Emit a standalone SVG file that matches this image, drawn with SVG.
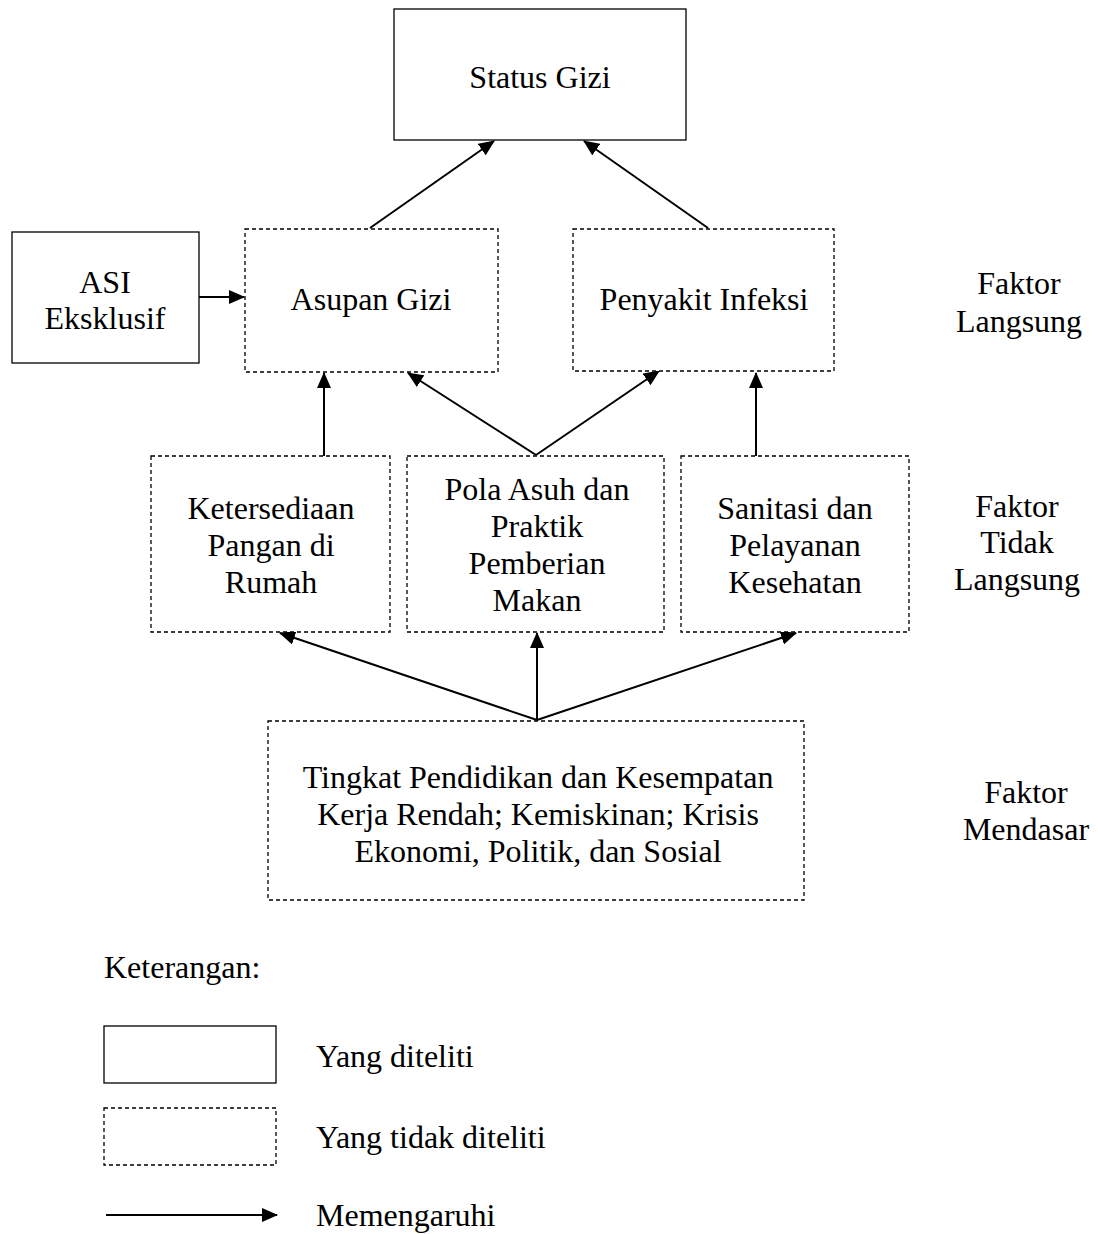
<svg xmlns="http://www.w3.org/2000/svg" width="1098" height="1234" viewBox="0 0 1098 1234">
<style>
.t{font-family:"Liberation Serif","Times New Roman",serif;font-size:32px;fill:#000;text-anchor:middle}
.l{text-anchor:start}
.s{fill:#fff;stroke:#000;stroke-width:1.3}
.d{fill:#fff;stroke:#000;stroke-width:1.3;stroke-dasharray:4 3}
.c{stroke:#000;stroke-width:2;fill:none;marker-end:url(#ah)}
</style>
<defs>
<marker id="ah" markerWidth="16" markerHeight="14" refX="15" refY="7" orient="auto" markerUnits="userSpaceOnUse">
<path d="M0,0 L16,7 L0,14 Z" fill="#000"/>
</marker>
</defs>
<rect width="1098" height="1234" fill="#fff"/>
<g id="connectors">
<line class="c" x1="370" y1="228" x2="494" y2="141"/>
<line class="c" x1="708" y1="228" x2="584" y2="141"/>
<line class="c" x1="199" y1="297" x2="244" y2="297"/>
<line class="c" x1="324" y1="456" x2="324" y2="373"/>
<line class="c" x1="536" y1="455" x2="408" y2="373"/>
<line class="c" x1="536" y1="455" x2="659" y2="371"/>
<line class="c" x1="756" y1="456" x2="756" y2="373"/>
<line class="c" x1="537" y1="720" x2="280" y2="633"/>
<line class="c" x1="537" y1="720" x2="537" y2="633"/>
<line class="c" x1="537" y1="720" x2="796" y2="633"/>
</g>
<g id="status-gizi"><rect class="s" x="394" y="9" width="292" height="131"/><text class="t" x="540" y="88">Status Gizi</text></g>
<g id="asi"><rect class="s" x="12" y="232" width="187" height="131"/><text class="t" x="105" y="293">ASI</text><text class="t" x="105" y="329">Eksklusif</text></g>
<g id="asupan"><rect class="d" x="245" y="229" width="253" height="143"/><text class="t" x="371" y="310">Asupan Gizi</text></g>
<g id="penyakit"><rect class="d" x="573" y="229" width="261" height="142"/><text class="t" x="704" y="310">Penyakit Infeksi</text></g>
<g id="ketersediaan"><rect class="d" x="151" y="456" width="239" height="176"/><text class="t" x="271" y="519">Ketersediaan</text><text class="t" x="271" y="556">Pangan di</text><text class="t" x="271" y="593">Rumah</text></g>
<g id="pola-asuh"><rect class="d" x="407" y="456" width="257" height="176"/><text class="t" x="537" y="500">Pola Asuh dan</text><text class="t" x="537" y="537">Praktik</text><text class="t" x="537" y="574">Pemberian</text><text class="t" x="537" y="611">Makan</text></g>
<g id="sanitasi"><rect class="d" x="681" y="456" width="228" height="176"/><text class="t" x="795" y="519">Sanitasi dan</text><text class="t" x="795" y="556">Pelayanan</text><text class="t" x="795" y="593">Kesehatan</text></g>
<g id="mendasar"><rect class="d" x="268" y="721" width="536" height="179"/><text class="t" x="538" y="788">Tingkat Pendidikan dan Kesempatan</text><text class="t" x="538" y="825">Kerja Rendah; Kemiskinan; Krisis</text><text class="t" x="538" y="862">Ekonomi, Politik, dan Sosial</text></g>
<g id="labels">
<text class="t" x="1019" y="294">Faktor</text><text class="t" x="1019" y="332">Langsung</text>
<text class="t" x="1017" y="517">Faktor</text><text class="t" x="1017" y="553">Tidak</text><text class="t" x="1017" y="590">Langsung</text>
<text class="t" x="1026" y="803">Faktor</text><text class="t" x="1026" y="840">Mendasar</text>
</g>
<g id="legend">
<text class="t l" x="104" y="978">Keterangan:</text>
<rect class="s" x="104" y="1026" width="172" height="57"/><text class="t l" x="316" y="1067">Yang diteliti</text>
<rect class="d" x="104" y="1108" width="172" height="57"/><text class="t l" x="316" y="1148">Yang tidak diteliti</text>
<line class="c" x1="106" y1="1215" x2="277" y2="1215"/><text class="t l" x="316" y="1226">Memengaruhi</text>
</g>
</svg>
